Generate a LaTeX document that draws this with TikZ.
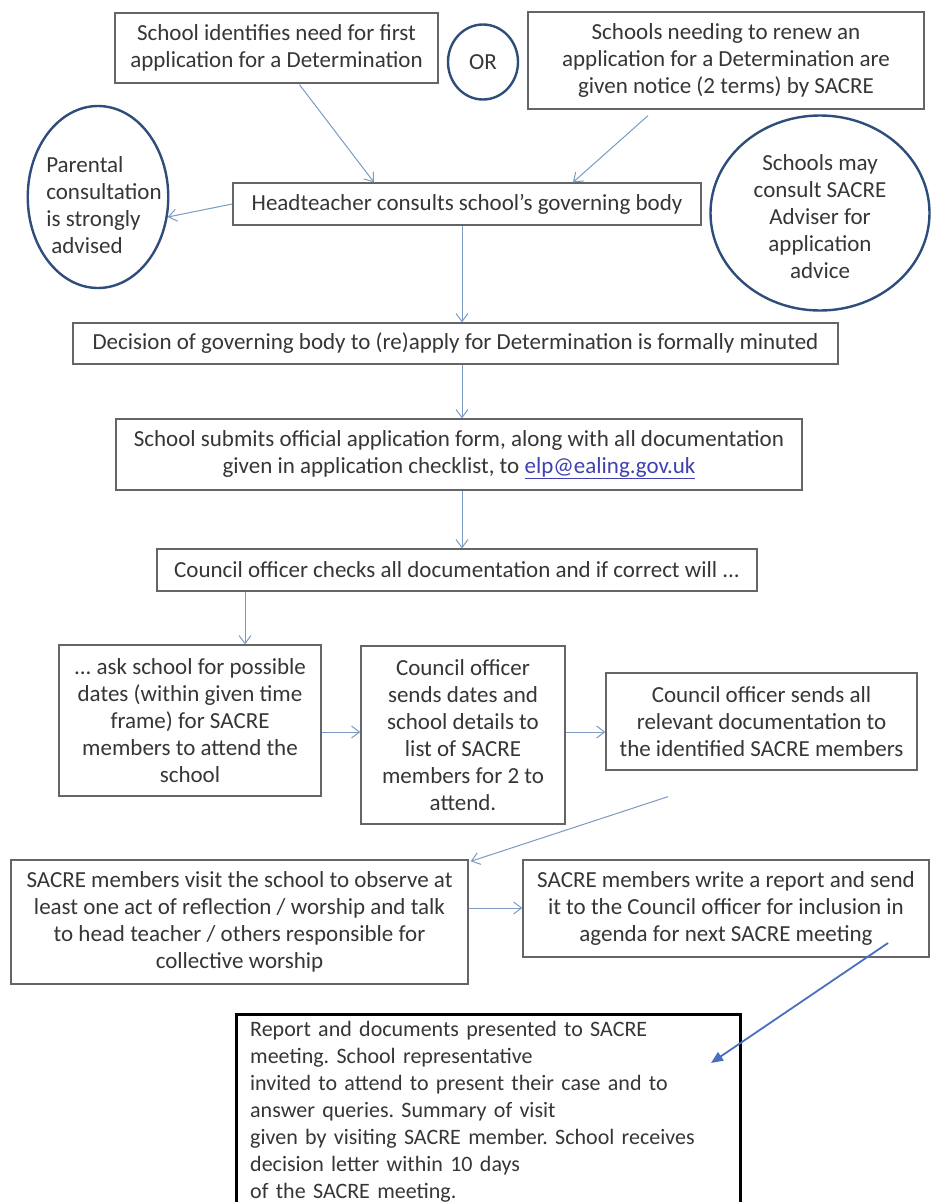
\documentclass[tikz,border=0pt]{standalone}
\usepackage{fontspec}
\setmainfont{Carlito}
\usetikzlibrary{shapes.geometric,arrows.meta}
\definecolor{boxline}{HTML}{656565}
\definecolor{txt}{HTML}{363636}
\definecolor{ellline}{HTML}{2F4D7B}
\definecolor{arr}{HTML}{7C9AC4}
\definecolor{bigarr}{HTML}{4A6FC0}
\definecolor{linkc}{HTML}{4040B0}
\frenchspacing
\begin{document}
\begin{tikzpicture}[x=1pt,y=-1pt,
  every node/.style={font=\fontsize{23}{27}\selectfont, text=txt, inner sep=0pt},
  box/.style={draw=boxline, line width=1.3pt, align=center, fill=white},
  oval/.style={ellipse, draw=ellline, line width=2.4pt, align=center},
  flow/.style={draw=arr, line width=1pt, -{Straight Barb[length=8pt,width=12pt]}},
  bigflow/.style={draw=bigarr, line width=1.8pt, -{Triangle[length=12pt,width=10pt]}}]
\useasboundingbox (0,0) rectangle (931,1202);
\fill[white] (0,0) rectangle (931,1202);

\node[box, minimum width=323pt, minimum height=70pt] (b1) at (276.5,48)
  {School  identifies need for first\\application for a Determination};
\node[oval, minimum width=70pt, minimum height=75pt] (orc) at (483,62) {OR};
\node[box, minimum width=396pt, minimum height=97pt] (b2) at (726,60.5)
  {Schools needing to renew an\\application for a Determination are\\given notice (2 terms) by SACRE};
\node[oval, align=left, inner xsep=-14pt, minimum width=140pt, minimum height=182pt] (par) at (98,197)
  {\rule{0pt}{33pt}\hspace*{12pt}Parental\\\hspace*{12pt}consultation\\\hspace*{12pt}is  strongly\\\hspace*{17pt}advised};
\node[box, minimum width=468pt, minimum height=42pt] (head) at (467,204)
  {Headteacher consults school’s governing body};
\node[oval, inner xsep=-4pt, minimum width=219pt, minimum height=195pt] (adv) at (820,213)
  {\rule{0pt}{23pt}Schools may\\consult SACRE\\Adviser for\\application\\advice};
\node[box, minimum width=765pt, minimum height=41pt] (dec) at (455.5,343.5)
  {Decision of governing body to (re)apply for Determination  is formally minuted};
\node[box, minimum width=686pt, minimum height=71pt] (sub) at (459,454.5)
  {School  submits official application form, along with all documentation\\given in application checklist, to \textcolor{linkc}{\underline{elp@ealing.gov.uk}}};
\node[box, minimum width=600pt, minimum height=42pt] (coun) at (457,570)
  {Council officer checks all documentation  and if correct will ...};
\node[box, minimum width=262pt, minimum height=151pt] (bA) at (190,720.5)
  {... ask school for possible\\dates (within given time\\frame)  for  SACRE\\members to attend the\\school};
\node[box, minimum width=204pt, minimum height=178pt] (bB) at (463,735)
  {Council officer\\sends dates and\\school details to\\list of SACRE\\members for 2 to\\attend.};
\node[box, minimum width=311pt, minimum height=97pt] (bC) at (761.5,721.5)
  {Council officer sends all\\relevant documentation  to\\the identified SACRE members};
\node[box, minimum width=457pt, minimum height=124pt] (bD) at (239.5,922)
  {SACRE members visit the school to observe at\\least one act of reflection / worship and talk\\to head teacher / others responsible for\\collective worship};
\node[box, minimum width=406pt, minimum height=97pt] (bE) at (726,908.5)
  {SACRE members  write  a report  and send\\it to the Council officer for inclusion in\\agenda for next SACRE meeting};
\node[draw=black, line width=3pt, minimum width=504pt, minimum height=230pt, anchor=north west] (bF) at (235,1013) {};
\node[anchor=north west, align=left, text width=480pt, font=\fontsize{22}{27}\selectfont] (bFt) at (250,1021)
  {Report and documents presented to SACRE\\meeting. School representative\\invited to attend to present their case and to\\answer queries. Summary of visit\\given by visiting SACRE member. School receives\\decision letter within 10 days\\of the SACRE meeting.};

\draw[flow] ([xshift=23pt,yshift=-1pt]b1.south) -- ([xshift=-93pt]head.north);
\draw[flow] ([xshift=-78pt,yshift=-6pt]b2.south) -- ([xshift=106pt]head.north);
\draw[flow] (head.west) -- (par.-16);
\draw[flow] ([xshift=-5pt]head.south) -- ([xshift=6.5pt]dec.north);
\draw[flow] ([xshift=6.5pt]dec.south) -- ([xshift=3pt]sub.north);
\draw[flow] ([xshift=3pt]sub.south) -- ([xshift=5pt]coun.north);
\draw[flow] ([xshift=-212pt]coun.south) -- ([xshift=55pt]bA.north);
\draw[flow] ([yshift=-11.5pt]bA.east) -- ([yshift=3pt]bB.west);
\draw[flow] ([yshift=3pt]bB.east) -- ([yshift=-10.5pt]bC.west);
\draw[flow] ([xshift=-93.5pt,yshift=-26pt]bC.south) -- ([xshift=2pt,yshift=-2pt]bD.north east);
\draw[flow] ([yshift=14pt]bD.east) -- ([yshift=0.5pt]bE.west);
\draw[bigflow] ([xshift=162pt,yshift=-34.5pt]bE.center) -- ([xshift=-31pt,yshift=-50pt]bF.north east);
\end{tikzpicture}
\end{document}
